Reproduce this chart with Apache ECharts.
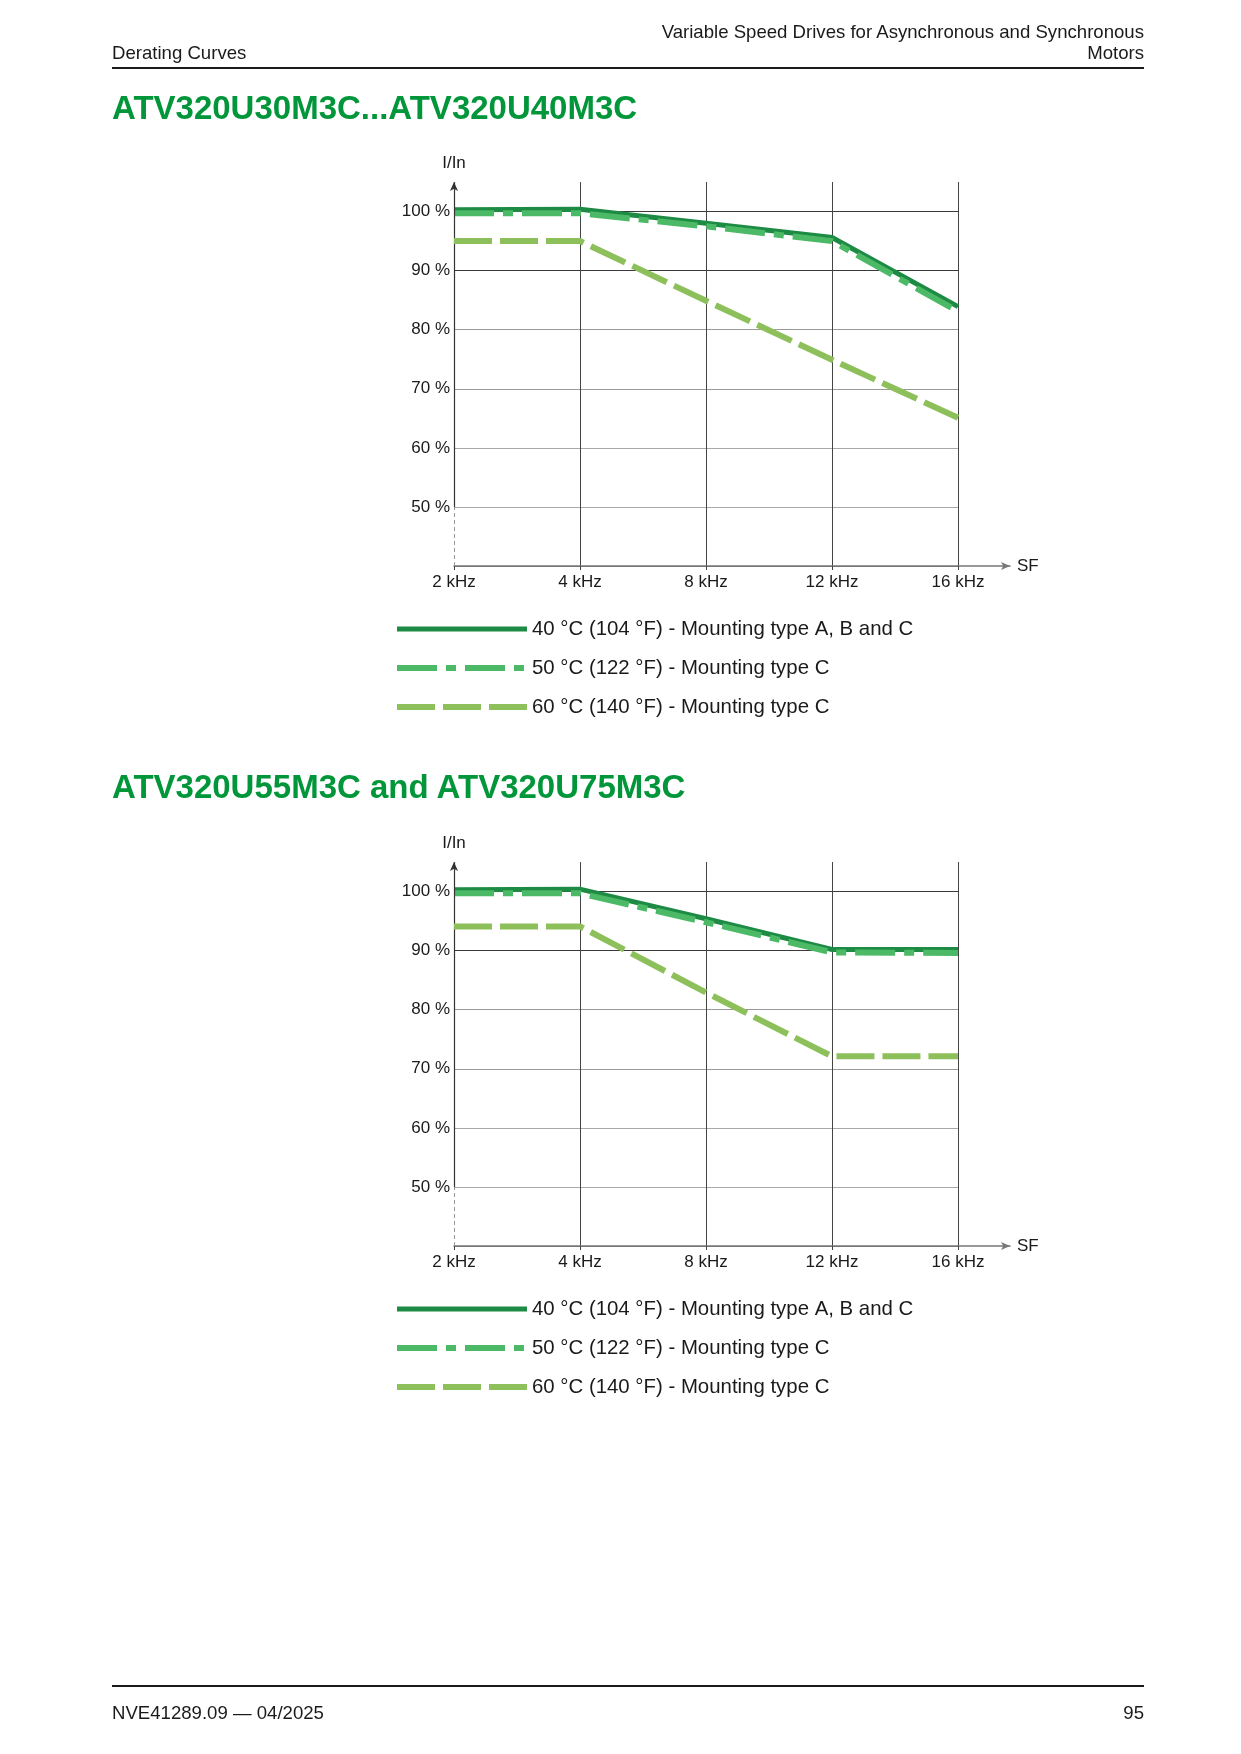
<!DOCTYPE html>
<html>
<head>
<meta charset="utf-8">
<script src="https://cdn.jsdelivr.net/npm/echarts@6/dist/echarts.min.js"></script>
<style>
  html, body { margin: 0; padding: 0; background: #fff; }
  #page { position: relative; width: 1241px; height: 1754px; font-family: "Liberation Sans", Arial, sans-serif; color: #1a1a1a; }
  #chart { position: absolute; left: 0; top: 0; width: 1241px; height: 1754px; }
  .t { position: absolute; white-space: nowrap; }
  .rule { position: absolute; left: 112px; width: 1032px; height: 2px; background: #1a1a1a; }
  .h { font-size: 18.6px; line-height: 21px; }
  .title { font-size: 33px; font-weight: bold; color: #009639; line-height: 36px; left: 112px; }
</style>
</head>
<body>
<div id="page">
  <div id="chart"></div>
  <div class="t h" style="left:112px; top:42px;">Derating Curves</div>
  <div class="t h" style="right:97px; top:21px; text-align:right;">Variable Speed Drives for Asynchronous and Synchronous<br>Motors</div>
  <div class="rule" style="top:67px;"></div>
  <div class="t title" style="top:90px;">ATV320U30M3C...ATV320U40M3C</div>
  <div class="t title" style="top:769px;">ATV320U55M3C and ATV320U75M3C</div>
  <div class="rule" style="top:1685px;"></div>
  <div class="t h" style="left:112px; top:1702px;">NVE41289.09 — 04/2025</div>
  <div class="t h" style="right:97px; top:1702px;">95</div>
</div>
<script>
// ---- data ----
const categories = ['2 kHz', '4 kHz', '8 kHz', '12 kHz', '16 kHz'];
const yTickValues = [50, 60, 70, 80, 90, 100];
const seriesNames = ['40 °C (104 °F) - Mounting type A, B and C', '50 °C (122 °F) - Mounting type C', '60 °C (140 °F) - Mounting type C'];
// Chart 1: ATV320U30M3C...ATV320U40M3C
const c1_40 = [100.3, 100.4, 98.0, 95.6, 83.9];
const c1_50 = [99.7, 99.7, 97.5, 95.0, 83.1];
const c1_60 = [95.0, 95.0, 84.9, 74.9, 65.1];
// Chart 2: ATV320U55M3C and ATV320U75M3C
const c2_40 = [100.3, 100.4, 95.4, 90.2, 90.2];
const c2_50 = [99.7, 99.7, 94.8, 89.7, 89.6];
const c2_60 = [94.1, 94.1, 82.9, 72.1, 72.1];

// ---- styles ----
const FONT = '"Liberation Sans", Arial, sans-serif';
const styles = [
  { color: '#1d8b44', width: 5, type: 'solid' },
  { color: '#4cb966', width: 6, type: [40, 9, 10, 9] },
  { color: '#8dc05b', width: 6, type: [38, 8] }
];

const chart = echarts.init(document.getElementById('chart'), null, { renderer: 'canvas' });

const grids = [];
const xAxes = [];
const yAxes = [];
const series = [];
const legends = [];

function addChart(top, dataSets, legendTop) {
  const gi = grids.length;
  grids.push({ left: 454, top: top, width: 504, height: 384 });
  grids.push({ left: 958, top: top, width: 52, height: 384 });
  const ax = xAxes.length;
  xAxes.push({
    gridIndex: gi, type: 'category', data: categories, boundaryGap: false,
    axisLine: { show: true, lineStyle: { color: '#777', width: 1.5 } },
    axisTick: { show: true, length: 4, interval: 0, lineStyle: { color: '#444' } },
    axisLabel: { fontSize: 17, color: '#1a1a1a', margin: 8, fontFamily: FONT, interval: 0 },
    splitLine: { show: true, showMinLine: false, lineStyle: { color: '#444', width: 1 } }
  });
  xAxes.push({
    gridIndex: gi + 1, type: 'value', min: 0, max: 1,
    axisLine: { show: true, symbol: ['none', 'arrow'], symbolSize: [6, 9], lineStyle: { color: '#777', width: 1.5 } },
    axisTick: { show: false }, axisLabel: { show: false }, splitLine: { show: false },
    name: 'SF', nameLocation: 'end', nameGap: 7,
    nameTextStyle: { fontSize: 17, color: '#1a1a1a', fontFamily: FONT }
  });
  yAxes.push({
    gridIndex: gi, type: 'value', min: 40, max: 105, interval: 10,
    axisLine: { show: false }, axisTick: { show: false },
    axisLabel: {
      fontSize: 17, color: '#1a1a1a', margin: 4, fontFamily: FONT,
      formatter: v => (yTickValues.indexOf(v) >= 0 ? v + ' %' : '')
    },
    splitLine: { show: true, showMaxLine: false,
      lineStyle: { color: ['#777', '#a8a8a8', '#a8a8a8', '#9a9a9a', '#9a9a9a', '#3a3a3a', '#3a3a3a'], width: 1 } },
    name: 'I/In', nameLocation: 'end', nameGap: 10,
    nameTextStyle: { fontSize: 17, color: '#1a1a1a', fontFamily: FONT, align: 'center' }
  });
  yAxes.push({ gridIndex: gi + 1, type: 'value', min: 40, max: 105, show: false });

  dataSets.forEach((d, i) => {
    const s = {
      name: seriesNames[i], type: 'line', xAxisIndex: ax, yAxisIndex: ax,
      data: d, symbol: 'none', showSymbol: false, animation: false, z: 3 + i,
      lineStyle: { color: styles[i].color, width: styles[i].width, type: styles[i].type, cap: 'butt', join: 'miter' },
      itemStyle: { color: styles[i].color }
    };
    if (i === 0) {
      s.markLine = {
        silent: true, animation: false, symbol: ['none', 'none'], label: { show: false },
        emphasis: { disabled: true },
        data: [
          [ { coord: [categories[0], 40], lineStyle: { type: [4, 3], color: '#999', width: 1 } },
            { coord: [categories[0], 50] } ],
          [ { coord: [categories[0], 50], symbol: 'none', lineStyle: { type: 'solid', color: '#333', width: 1.2 } },
            { coord: [categories[0], 105], symbol: 'arrow', symbolSize: [6, 9] } ]
        ]
      };
    }
    series.push(s);
  });

  legends.push({
    orient: 'vertical', left: 389, top: legendTop,
    itemWidth: 130, itemHeight: 8, itemGap: 19,
    data: seriesNames, selectedMode: false,
    textStyle: { fontSize: 20.4, color: '#1a1a1a', fontFamily: FONT },
    itemStyle: { opacity: 0 },
    lineStyle: { width: 'inherit', type: 'inherit', opacity: 1 }
  });
}

addChart(182, [c1_40, c1_50, c1_60], 614);
addChart(862, [c2_40, c2_50, c2_60], 1294);

chart.setOption({
  animation: false,
  textStyle: { fontFamily: FONT },
  grid: grids,
  xAxis: xAxes,
  yAxis: yAxes,
  legend: legends,
  series: series
});
</script>
</body>
</html>
